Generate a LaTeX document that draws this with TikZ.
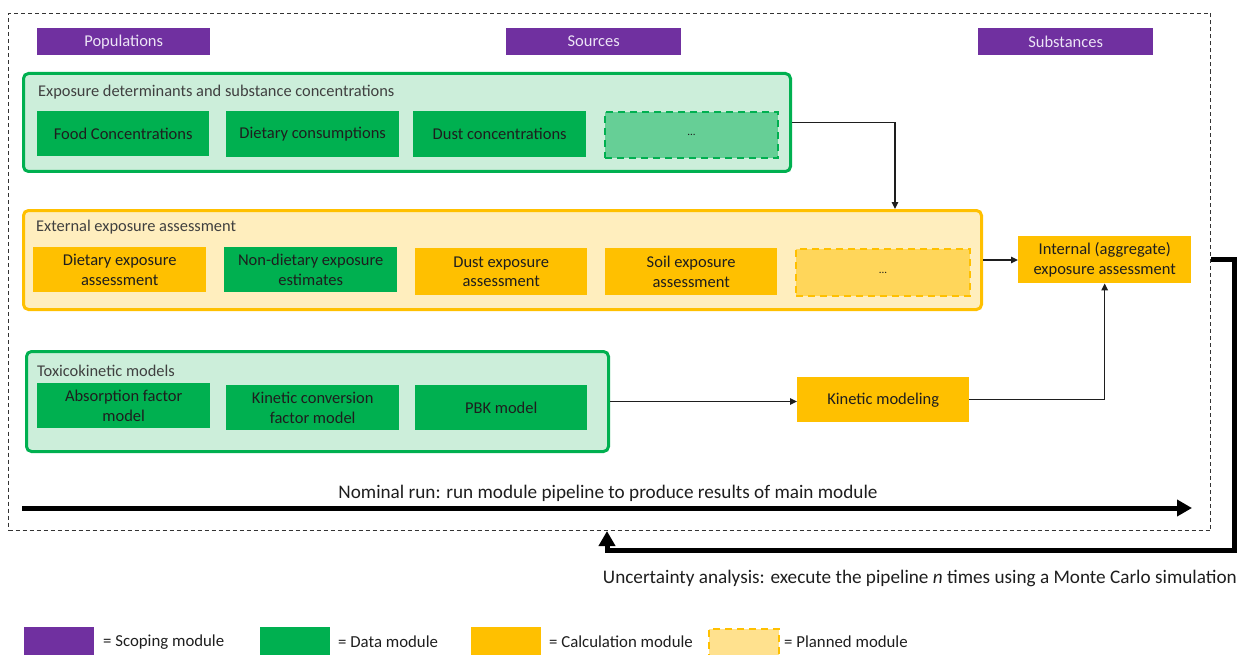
\documentclass[tikz,border=0pt]{standalone}
\usepackage{fontspec}
\setmainfont{Carlito}
\usetikzlibrary{arrows.meta}

\definecolor{scopepurple}{RGB}{112,48,160}
\definecolor{scopetext}{RGB}{236,228,246}
\definecolor{datagreen}{RGB}{0,176,80}
\definecolor{datapale}{RGB}{204,238,218}
\definecolor{datahalf}{RGB}{102,207,150}
\definecolor{calcyellow}{RGB}{255,192,0}
\definecolor{calcpale}{RGB}{255,238,190}
\definecolor{calchalf}{RGB}{255,214,90}
\definecolor{plannedfill}{RGB}{255,225,142}
\definecolor{inktext}{RGB}{30,30,30}

\tikzset{
  sz/.style n args={2}{minimum width=#1pt, minimum height=#2pt},
  base/.style={anchor=north west, inner sep=0pt, align=center, text=inktext,
    font=\fontsize{16.5}{19.5}\selectfont},
  scopebox/.style={base, fill=scopepurple, text=scopetext,
    font=\fontsize{16.5}{19}\selectfont},
  databox/.style={base, fill=datagreen},
  calcbox/.style={base, fill=calcyellow},
  datamore/.style={base, fill=datahalf, draw=datagreen, line width=2pt,
    dash pattern=on 7pt off 5pt},
  calcmore/.style={base, fill=calchalf, draw=calcyellow, line width=2pt,
    dash pattern=on 7pt off 5pt},
  datagroup/.style={base, fill=datapale, draw=datagreen, line width=3pt,
    rounded corners=5pt},
  calcgroup/.style={base, fill=calcpale, draw=calcyellow, line width=3pt,
    rounded corners=5pt},
  grouptitle/.style={anchor=west, inner sep=0pt, text=inktext!85,
    font=\fontsize{16.4}{19}\selectfont},
  flow/.style={draw=inktext, line width=1.5pt,
    -{Triangle[length=7pt,width=6.5pt]}},
  bigflow/.style={draw=black, line width=5pt,
    -{Triangle[length=15pt,width=16pt]}},
  note/.style={inner sep=0pt, text=inktext, font=\fontsize{19.2}{22}\selectfont},
  keytext/.style={anchor=west, inner sep=0pt, text=inktext,
    font=\fontsize{16.8}{19}\selectfont},
}

\begin{document}
\begin{tikzpicture}[x=1pt, y=-1pt]
\useasboundingbox (0,0) rectangle (1241,655);

% dashed frame around the pipeline
\node[anchor=north west, inner sep=0pt, sz={1202}{517}, draw=black!80,
  line width=1pt, dash pattern=on 4pt off 3pt] (frame) at (8,13) {};

% scoping modules
\node[scopebox, sz={173}{27}] (pop) at (37,28) {Populations};
\node[scopebox, sz={175}{27}] (src) at (506,28) {Sources};
\node[scopebox, sz={175}{27}] (sub) at (978,28) {Substances};

% exposure determinants
\node[datagroup, sz={767}{98}] (det) at (22,72) {};
\node[grouptitle] (dett) at (38,92) {Exposure determinants and substance concentrations};
\node[databox, sz={172}{45}] (food) at (37,111) {Food Concentrations};
\node[databox, sz={173}{46}] (cons) at (226,111) {Dietary consumptions};
\node[databox, sz={173}{46}] (dustc) at (413,111) {Dust concentrations};
\node[datamore, sz={173}{46}] (moredet) at (604,111) {\fontsize{11}{13}\selectfont ...};

% external exposure assessment
\node[calcgroup, sz={958}{99}] (ext) at (22,209) {};
\node[grouptitle] (extt) at (36,227) {External exposure assessment};
\node[calcbox, sz={173}{45}] (diet) at (33,247) {Dietary exposure\\assessment};
\node[databox, sz={173}{45}] (nondiet) at (224,247) {Non-dietary exposure\\estimates};
\node[calcbox, sz={172}{47}] (dust) at (415,248) {Dust exposure\\assessment};
\node[calcbox, sz={172}{47}] (soil) at (605,248) {Soil exposure\\assessment};
\node[calcmore, sz={174}{47}] (moreext) at (795,248) {\fontsize{11}{13}\selectfont ...};

% internal exposure
\node[calcbox, sz={173}{47}] (internal) at (1018,236) {Internal (aggregate)\\exposure assessment};

% toxicokinetic models
\node[datagroup, sz={582}{100}] (tk) at (25,350) {};
\node[grouptitle] (tkt) at (37,371) {Toxicokinetic models};
\node[databox, sz={173}{45}] (absf) at (37,383) {Absorption factor\\model};
\node[databox, sz={173}{45}] (kcf) at (226,385) {Kinetic conversion\\factor model};
\node[databox, sz={172}{45}] (pbk) at (415,385) {PBK model};

\node[calcbox, sz={172}{45}] (kin) at (797,377) {Kinetic modeling};

% connectors
\coordinate (drop) at (895,0);
\draw[flow] (det.east) -| (ext.north -| drop);
\draw[flow] (ext.east) -- (internal.west |- ext.east);
\draw[flow] (tk.east) -- (kin.west |- tk.east);
\draw[flow] (kin.east) -| (internal.south);

% nominal run
\coordinate (runstart) at (22,508);
\coordinate (runend) at (1192,508);
\draw[bigflow] (runstart) -- (runend);
\node[note] (runtext) at (608,493) {Nominal run: run module pipeline to produce results of main module};

% uncertainty loop
\coordinate (loopr) at (1234,550);
\coordinate (loopl) at (607,550);
\draw[bigflow, line join=miter] (frame.east |- internal.east) -| (loopr) -- (loopl) -- (loopl |- frame.south);
\node[note, anchor=east] (looptext) at (1237,578) {Uncertainty analysis: execute the pipeline \textit{n} times using a Monte Carlo simulation};

% legend
\node[base, fill=scopepurple, sz={70}{28}] (k1) at (24,627) {};
\node[keytext] (k1t) at (103,642) {= Scoping module};
\node[base, fill=datagreen, sz={70}{28}] (k2) at (260,627) {};
\node[keytext] (k2t) at (338,642) {= Data module};
\node[base, fill=calcyellow, sz={70}{28}] (k3) at (471,627) {};
\node[keytext] (k3t) at (549,642) {= Calculation module};
\node[base, fill=plannedfill, draw=calcyellow, line width=2pt,
  dash pattern=on 7pt off 5pt, sz={70}{27}] (k4) at (708,628) {};
\node[keytext] (k4t) at (784,642) {= Planned module};
\end{tikzpicture}
\end{document}
